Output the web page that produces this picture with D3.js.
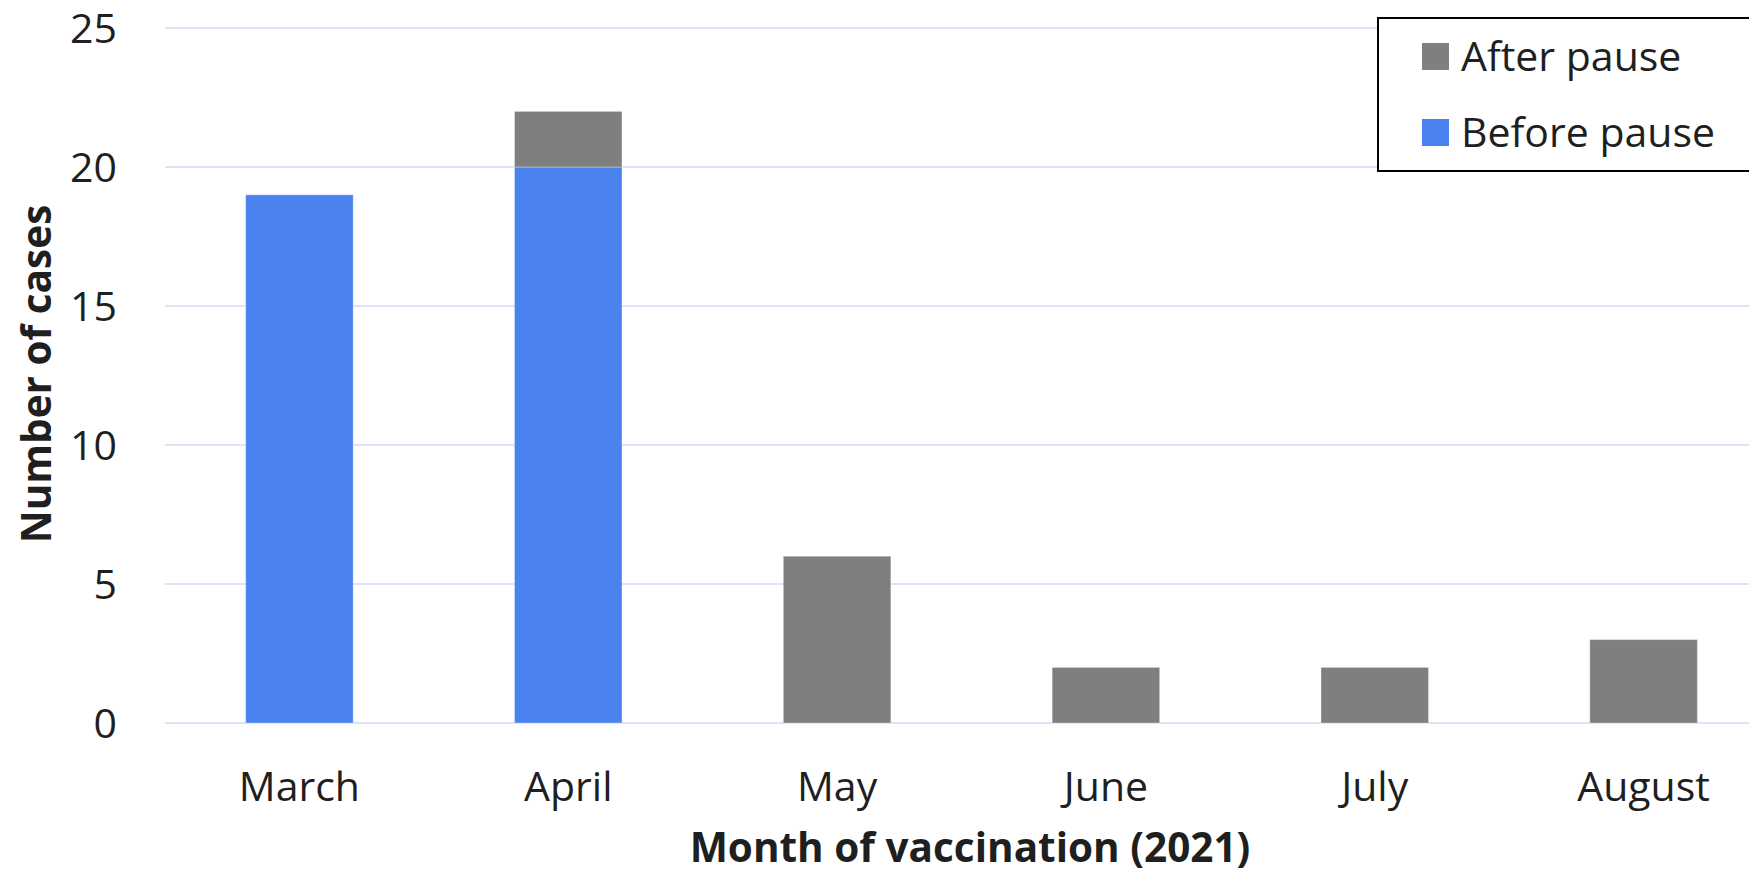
<!DOCTYPE html>
<html>
<head>
<meta charset="utf-8">
<script src="https://cdn.jsdelivr.net/npm/d3@7"></script>
<style>
  html, body { margin: 0; padding: 0; background: #fff; overflow: hidden; }
  svg { display: block; font-family: "Open Sans", sans-serif; }
</style>
</head>
<body>
<svg id="chart" width="1749" height="875"></svg>
<script>
const months = ["March", "April", "May", "June", "July", "August"];
const beforePause = [19, 20, 0, 0, 0, 0];
const afterPause = [0, 2, 6, 2, 2, 3];
const seriesNames = ["Before pause", "After pause"];
const seriesColors = ["#4a83f0", "#7f7f7f"];
const yTicks = [0, 5, 10, 15, 20, 25];
const xTitle = "Month of vaccination (2021)";
const yTitle = "Number of cases";

const svg = d3.select("#chart");
const plotLeft = 165, plotRight = 1778, plotTop = 28, plotBottom = 723;

const x = d3.scaleBand().domain(months).range([plotLeft, plotRight]).paddingInner(0.6).paddingOuter(0.3);
const y = d3.scaleLinear().domain([0, 25]).range([plotBottom, plotTop]);

// gridlines
svg.append("g").selectAll("line").data(yTicks).join("line")
  .attr("x1", plotLeft).attr("x2", 1749)
  .attr("y1", d => y(d)).attr("y2", d => y(d))
  .attr("stroke", "#dae5f8").attr("stroke-width", 2);

// y tick labels
svg.append("g").selectAll("text").data(yTicks).join("text")
  .attr("x", 117).attr("y", d => y(d))
  .attr("dy", "0.36em")
  .attr("text-anchor", "end")
  .attr("font-size", 41).attr("fill", "#1f1f1f")
  .text(d => d);

// stacked bars
const rows = months.map((m, i) => ({ month: m, before: beforePause[i], after: afterPause[i] }));
const stack = d3.stack().keys(["before", "after"]);
const layers = stack(rows);
svg.append("g").selectAll("g").data(layers).join("g")
  .attr("fill", (d, i) => seriesColors[i])
  .selectAll("rect").data(d => d.filter(s => s[1] - s[0] > 0)).join("rect")
  .attr("x", d => x(d.data.month))
  .attr("width", x.bandwidth())
  .attr("y", d => y(d[1]))
  .attr("height", d => y(d[0]) - y(d[1]))
  .attr("stroke", "rgba(255,255,255,0.35)").attr("stroke-width", 1);

// x tick labels
svg.append("g").selectAll("text").data(months).join("text")
  .attr("x", d => x(d) + x.bandwidth() / 2).attr("y", 801)
  .attr("text-anchor", "middle")
  .attr("font-size", 41).attr("fill", "#1f1f1f")
  .text(d => d);

// axis titles
svg.append("text")
  .attr("x", 970).attr("y", 862)
  .attr("text-anchor", "middle")
  .attr("font-size", 40.5).attr("font-weight", "bold").attr("fill", "#1f1f1f")
  .text(xTitle);

svg.append("text")
  .attr("transform", "translate(51,374) rotate(-90)")
  .attr("text-anchor", "middle")
  .attr("font-size", 40.5).attr("font-weight", "bold").attr("fill", "#1f1f1f")
  .text(yTitle);

// legend
const lg = svg.append("g");
lg.append("rect").attr("x", 1378).attr("y", 18).attr("width", 420).attr("height", 153)
  .attr("fill", "#fff").attr("stroke", "#000").attr("stroke-width", 2);
const legendItems = [ { name: seriesNames[1], color: seriesColors[1] }, { name: seriesNames[0], color: seriesColors[0] } ];
const ly = d3.scalePoint().domain(legendItems.map(d => d.name)).range([56.5, 132.5]);
lg.selectAll("rect.sw").data(legendItems).join("rect").attr("class", "sw")
  .attr("x", 1422).attr("y", d => ly(d.name) - 13.5).attr("width", 27).attr("height", 27)
  .attr("fill", d => d.color);
lg.selectAll("text").data(legendItems).join("text")
  .attr("x", 1461).attr("y", d => ly(d.name)).attr("dy", "0.36em")
  .attr("font-size", 41).attr("fill", "#1f1f1f")
  .text(d => d.name);
</script>
</body>
</html>
